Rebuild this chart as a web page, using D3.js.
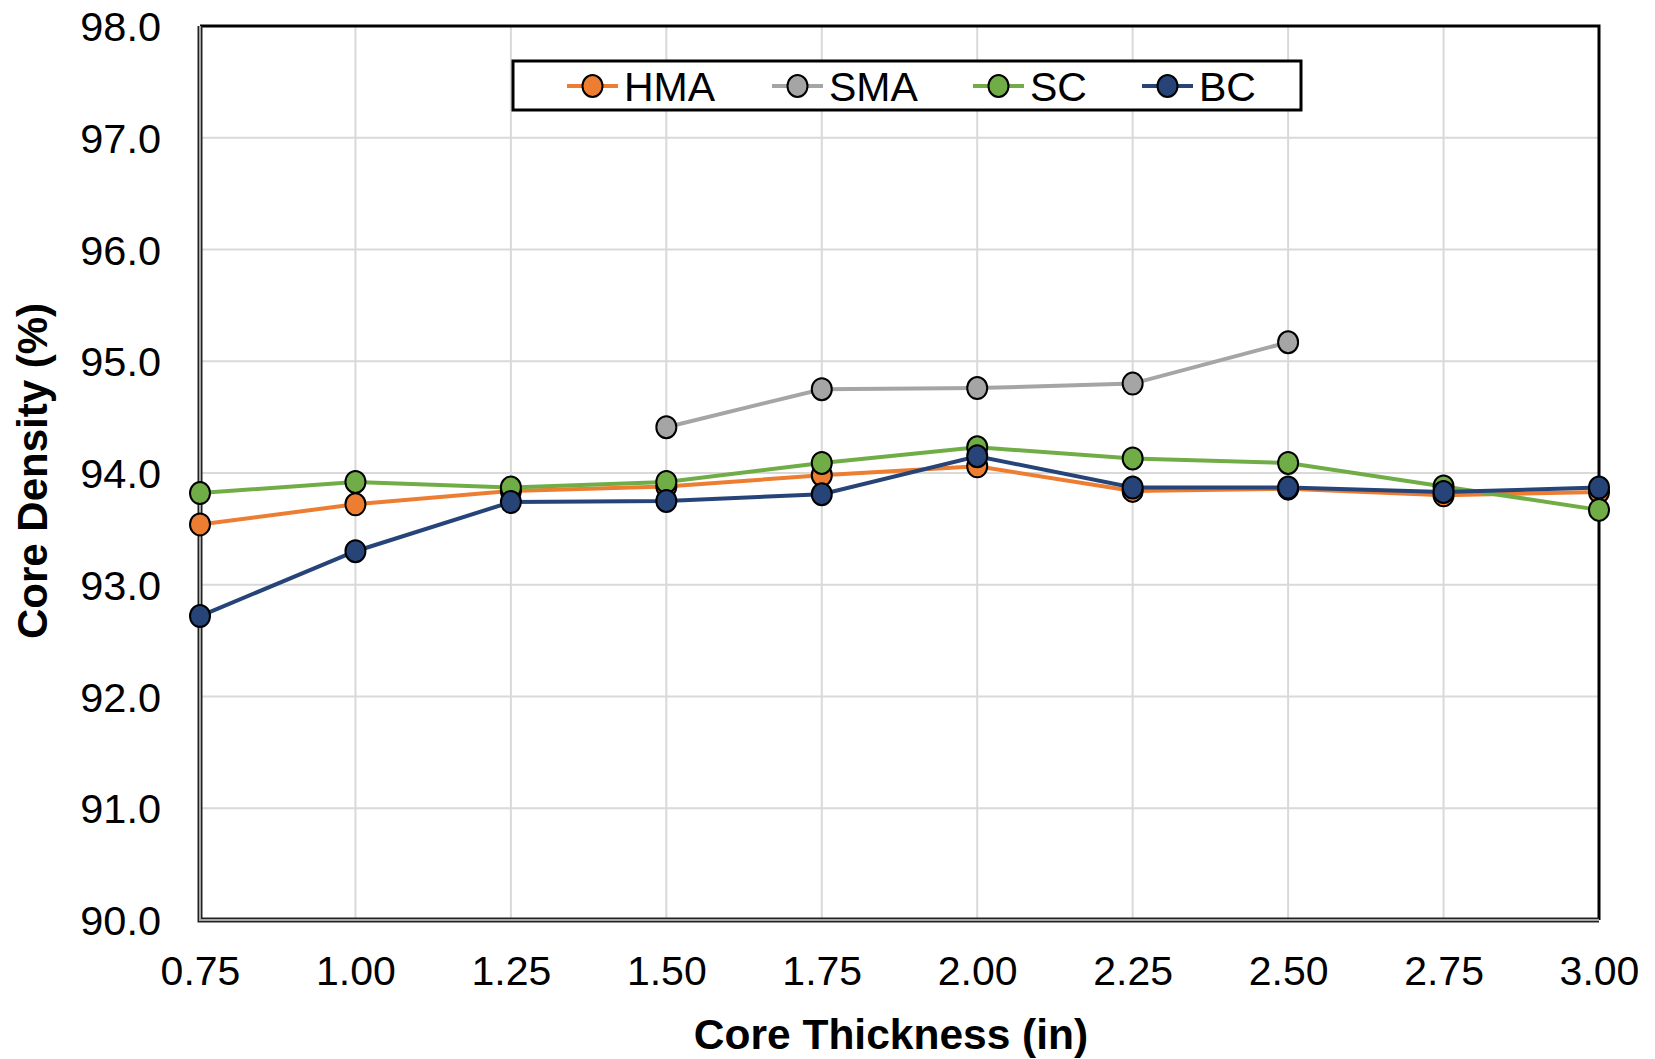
<!DOCTYPE html>
<html>
<head>
<meta charset="utf-8">
<script src="https://cdn.jsdelivr.net/npm/d3@7"></script>
<style>
  html, body { margin: 0; padding: 0; background: #fff; }
  svg { display: block; font-family: "Liberation Sans", Arial, sans-serif; }
</style>
</head>
<body>
<svg width="1655" height="1059"></svg>
<script>
// data
const thickness = [0.75, 1.00, 1.25, 1.50, 1.75, 2.00, 2.25, 2.50, 2.75, 3.00];
const hma = [93.54, 93.72, 93.84, 93.88, 93.98, 94.06, 93.84, 93.86, 93.80, 93.83];
const sma = [null, null, null, 94.41, 94.75, 94.76, 94.80, 95.17, null, null];
const sc  = [93.82, 93.92, 93.87, 93.92, 94.09, 94.23, 94.13, 94.09, 93.88, 93.67];
const bc  = [92.72, 93.30, 93.74, 93.75, 93.81, 94.15, 93.87, 93.87, 93.83, 93.87];
const yTicks = [90, 91, 92, 93, 94, 95, 96, 97, 98];

const series = [
  { name: 'HMA', values: hma, color: '#ED7D31' },
  { name: 'SMA', values: sma, color: '#A5A5A5' },
  { name: 'SC',  values: sc,  color: '#70AD47' },
  { name: 'BC',  values: bc,  color: '#264478' }
];

const svg = d3.select('svg');
const plotL = 200, plotR = 1599, plotT = 26, plotB = 920;

const x = d3.scaleLinear().domain([0.75, 3.00]).range([plotL, plotR]);
const y = d3.scaleLinear().domain([90, 98]).range([plotB, plotT]);

//  gridlines
const grid = svg.append('g').attr('id', 'grid');
grid.selectAll('line.v')
    .data(thickness)
    .join('line')
    .attr('class', 'v')
    .attr('x1', d => x(d)).attr('x2', d => x(d))
    .attr('y1', plotT).attr('y2', plotB)
    .attr('stroke', '#d9d9d9')
    .attr('stroke-width', 2);
grid.selectAll('line.h')
    .data(yTicks)
    .join('line')
    .attr('class', 'h')
    .attr('x1', plotL).attr('x2', plotR)
    .attr('y1', d => y(d)).attr('y2', d => y(d))
    .attr('stroke', '#d9d9d9')
    .attr('stroke-width', 2);

//  frame: top/right black, left/bottom gray with dark edge
svg.append('path')
    .attr('d', `M${plotL},${plotT}H${plotR}V${plotB}`)
    .attr('fill', 'none')
    .attr('stroke', 'black')
    .attr('stroke-width', 3);
svg.append('path')
    .attr('d', `M${plotL},${plotT}V${plotB}H${plotR}`)
    .attr('fill', 'none')
    .attr('stroke', '#222')
    .attr('stroke-width', 5);
svg.append('path')
    .attr('d', `M${plotL},${plotT}V${plotB}H${plotR}`)
    .attr('fill', 'none')
    .attr('stroke', '#a6a6a6')
    .attr('stroke-width', 2);

//  axes (labels only)
const yAxis = svg.append('g')
    .attr('transform', `translate(${plotL - 36},0)`)
    .call(d3.axisLeft(y).tickValues(yTicks).tickFormat(d3.format('.1f')).tickSize(0));
yAxis.select('.domain').remove();
yAxis.selectAll('text')
    .attr('font-size', 41.5)
    .attr('font-family', '"Liberation Sans", Arial, sans-serif')
    .attr('fill', 'black')
    .attr('dy', '0.35em');

const xAxis = svg.append('g')
    .attr('transform', `translate(0,${plotB + 33})`)
    .call(d3.axisBottom(x).tickValues(thickness).tickFormat(d3.format('.2f')).tickSize(0));
xAxis.select('.domain').remove();
xAxis.selectAll('text')
    .attr('font-size', 41)
    .attr('font-family', '"Liberation Sans", Arial, sans-serif')
    .attr('fill', 'black')
    .attr('dy', '0.71em');

//  axis titles
svg.append('text')
    .attr('x', 891)
    .attr('y', 1049)
    .attr('text-anchor', 'middle')
    .attr('font-size', 42.5)
    .attr('font-weight', 'bold')
    .text('Core Thickness (in)');

svg.append('text')
    .attr('transform', `translate(47,${(plotT + plotB) / 2 - 2}) rotate(-90)`)
    .attr('text-anchor', 'middle')
    .attr('font-size', 42)
    .attr('font-weight', 'bold')
    .text('Core Density (%)');

//  series
const line = d3.line()
    .defined(d => d.v != null)
    .x(d => x(d.t))
    .y(d => y(d.v));

series.forEach(s => {
    const pts = thickness.map((t, i) => ({ t: t, v: s.values[i] }));
    const g = svg.append('g').attr('class', 'series-' + s.name);
    g.append('path')
        .attr('d', line(pts))
        .attr('fill', 'none')
        .attr('stroke', s.color)
        .attr('stroke-width', 4);
    g.selectAll('ellipse')
        .data(pts.filter(d => d.v != null))
        .join('ellipse')
        .attr('cx', d => x(d.t))
        .attr('cy', d => y(d.v))
        .attr('rx', 10)
        .attr('ry', 11)
        .attr('fill', s.color)
        .attr('stroke', 'black')
        .attr('stroke-width', 2);
});

//  legend
const legend = svg.append('g').attr('id', 'legend');
legend.append('rect')
    .attr('x', 513).attr('y', 61)
    .attr('width', 788).attr('height', 49)
    .attr('fill', 'white')
    .attr('stroke', 'black')
    .attr('stroke-width', 3);

const legendX = [567, 772, 973, 1142];
const ly = 86;
series.forEach((s, i) => {
    const lx = legendX[i];
    legend.append('line')
        .attr('x1', lx).attr('x2', lx + 51)
        .attr('y1', ly).attr('y2', ly)
        .attr('stroke', s.color)
        .attr('stroke-width', 4);
    legend.append('ellipse')
        .attr('cx', lx + 25.5).attr('cy', ly)
        .attr('rx', 10).attr('ry', 11)
        .attr('fill', s.color)
        .attr('stroke', 'black')
        .attr('stroke-width', 2);
    legend.append('text')
        .attr('x', lx + 57)
        .attr('y', ly)
        .attr('dy', '0.36em')
        .attr('font-size', 41)
        .text(s.name);
});
</script>
</body>
</html>
